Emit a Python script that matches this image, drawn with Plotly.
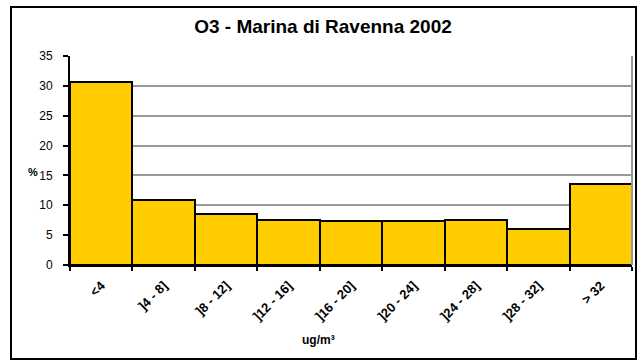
import plotly.graph_objects as go

categories = ["<4", "]4 - 8]", "]8 - 12]", "]12 - 16]", "]16 - 20]", "]20 - 24]", "]24 - 28]", "]28 - 32]", "> 32"]
values = [30.7, 10.9, 8.6, 7.6, 7.3, 7.3, 7.5, 6.1, 13.6]
y_ticks = [0, 5, 10, 15, 20, 25, 30, 35]

font = "Liberation Sans, Arial, sans-serif"

fig = go.Figure(go.Bar(
    x=categories, y=values,
    marker=dict(color="#FFCC00", line=dict(color="black", width=2)),
    width=1.0,
))

fig.update_layout(
    width=639, height=361,
    margin=dict(l=70, r=7, t=56, b=96),
    paper_bgcolor="white", plot_bgcolor="white",
    bargap=0,
    showlegend=False,
    title=dict(text="<b>O3 - Marina di Ravenna 2002</b>", x=(323 - 70) / 562, xref="paper", xanchor="center",
               y=1 - 26 / 361, yanchor="middle", font=dict(family=font, size=19, color="black")),
    font=dict(family=font, color="black"),
)

fig.update_xaxes(
    type="category", range=[-0.5, 8.5],
    tickangle=-45, tickson="boundaries",
    ticks="outside", ticklen=4, tickwidth=2, tickcolor="black",
    ticklabelstandoff=6,
    showline=True, linecolor="black", linewidth=2,
    showgrid=False,
    tickfont=dict(family=font, size=13, color="black"),
    tickprefix="<b>", ticksuffix="</b>",
)
fig.update_yaxes(
    range=[0, 35], tickvals=y_ticks,
    ticks="outside", ticklen=5, tickwidth=2, tickcolor="black",
    ticklabelstandoff=8,
    showline=True, linecolor="black", linewidth=2,
    showgrid=True, gridcolor="#999999", gridwidth=2,
    zeroline=False,
    tickfont=dict(family=font, size=12, color="black"),
    tickprefix="<b>", ticksuffix="</b>",
)

# plot area right border (gray)
fig.add_shape(type="line", xref="paper", yref="paper", x0=1, x1=1, y0=0, y1=1,
              line=dict(color="#999999", width=2))
# chart outer border
fig.add_shape(type="rect", xref="paper", yref="paper",
              x0=-59/562, x1=1 + 4/562, y0=-94/209, y1=1 + 49/209,
              line=dict(color="black", width=2), layer="below")

fig.add_annotation(text="<b>%</b>", xref="paper", yref="paper", x=-37/562, y=(265-172)/209,
                   showarrow=False, font=dict(family=font, size=11, color="black"),
                   xanchor="center", yanchor="middle")
fig.add_annotation(text="<b>ug/m³</b>", xref="paper", yref="paper", x=(318-70)/562, y=-(340-265)/209,
                   showarrow=False, font=dict(family=font, size=12, color="black"),
                   xanchor="center", yanchor="middle")

fig.write_html("out.html", config={"displayModeBar": False},
               post_script="document.body.style.margin='0';document.body.style.overflow='hidden';")
